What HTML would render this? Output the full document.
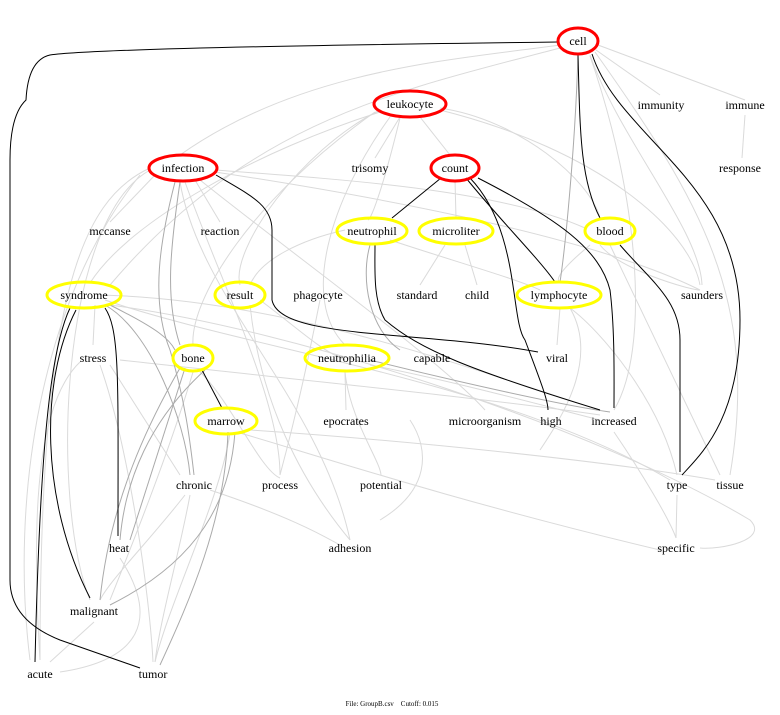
<!DOCTYPE html>
<html><head><meta charset="utf-8"><style>
html,body{margin:0;padding:0;background:#fff;width:780px;height:715px;overflow:hidden}
svg text{font-family:"Liberation Serif",serif;font-size:12px;fill:#000;text-anchor:middle}
</style></head><body>
<svg width="780" height="715" viewBox="0 0 780 715" xmlns="http://www.w3.org/2000/svg">
<g fill="none" stroke="#dadada" stroke-width="1">
<path d="M560,45 C450,60 300,70 180,155"/>
<path d="M560,48 C400,90 250,120 110,285"/>
<path d="M598,45 L745,100"/>
<path d="M596,50 L660,95"/>
<path d="M590,55 C620,140 700,230 702,285"/>
<path d="M595,52 C700,200 760,300 730,475"/>
<path d="M590,56 C640,200 650,350 614,410"/>
<path d="M380,110 C300,150 230,250 240,285"/>
<path d="M380,112 C260,150 130,220 90,283"/>
<path d="M400,117 L375,158"/>
<path d="M420,117 L450,155"/>
<path d="M440,108 C520,120 590,180 600,218"/>
<path d="M440,110 C600,150 690,230 700,285"/>
<path d="M390,117 C330,200 300,300 345,345"/>
<path d="M375,112 C250,200 190,300 193,345"/>
<path d="M400,118 C380,200 370,220 368,220"/>
<path d="M215,170 C350,180 500,190 585,228"/>
<path d="M215,172 C400,200 600,240 700,290"/>
<path d="M150,168 C80,200 40,300 40,660"/>
<path d="M155,175 L110,222"/>
<path d="M195,180 L220,222"/>
<path d="M150,170 C60,220 50,500 90,600"/>
<path d="M180,182 C200,300 320,400 350,540"/>
<path d="M185,182 C220,280 280,400 280,475"/>
<path d="M200,180 C300,260 440,360 485,410"/>
<path d="M345,230 C300,240 260,260 250,285"/>
<path d="M390,240 C450,260 520,280 540,290"/>
<path d="M445,245 L420,285"/>
<path d="M465,245 L477,285"/>
<path d="M600,245 C620,270 690,290 700,290"/>
<path d="M610,245 L720,475"/>
<path d="M590,245 C560,270 555,280 560,282"/>
<path d="M100,295 C300,300 500,380 600,410"/>
<path d="M105,300 C250,350 500,380 670,480"/>
<path d="M95,305 L93,345"/>
<path d="M110,305 C300,330 600,430 750,520 C770,540 720,550 700,548"/>
<path d="M260,300 C300,330 320,350 345,360"/>
<path d="M250,305 C260,400 300,480 350,540"/>
<path d="M320,300 C310,350 300,400 280,475"/>
<path d="M560,308 L557,345"/>
<path d="M570,308 C600,330 660,400 677,475"/>
<path d="M570,308 C600,360 560,420 540,450"/>
<path d="M80,362 C40,400 30,500 40,660"/>
<path d="M100,365 C130,450 150,600 153,662"/>
<path d="M110,365 L180,475"/>
<path d="M120,360 C300,380 500,400 600,415"/>
<path d="M193,372 C170,450 130,550 110,600"/>
<path d="M200,372 C230,400 260,470 280,478"/>
<path d="M345,372 L346,410"/>
<path d="M345,372 C350,420 380,460 381,475"/>
<path d="M370,365 C450,380 560,410 600,420"/>
<path d="M240,433 C300,450 450,500 660,550"/>
<path d="M230,433 C220,500 170,600 155,662"/>
<path d="M250,430 C400,440 600,460 715,480"/>
<path d="M190,495 C180,550 160,620 155,662"/>
<path d="M185,495 C150,540 110,580 100,600"/>
<path d="M210,490 C300,520 330,540 340,545"/>
<path d="M614,432 C640,470 670,520 676,538"/>
<path d="M677,495 L676,538"/>
<path d="M120,558 C160,620 140,660 60,672"/>
<path d="M94,622 L50,662"/>
<path d="M745,115 L742,158"/>
<path d="M455,180 L456,218"/>
<path d="M410,420 C430,450 430,490 380,520"/>
<path d="M30,660 C10,500 40,300 140,175"/>
</g>
<g fill="none" stroke="#aaa" stroke-width="1">
<path d="M578,55 C575,150 565,250 560,282"/>
<path d="M175,182 C160,240 150,300 170,350 C185,400 190,440 194,475"/>
<path d="M180,182 C170,250 165,300 180,345"/>
<path d="M370,245 C360,280 370,330 400,350"/>
<path d="M110,305 C160,330 170,340 175,350"/>
<path d="M105,305 C150,330 185,420 190,475"/>
<path d="M180,368 C150,420 110,500 100,600"/>
<path d="M185,368 L130,540"/>
<path d="M235,432 C230,500 200,560 110,605"/>
<path d="M228,432 C225,520 190,600 160,665"/>
<path d="M205,370 C150,420 125,480 120,540"/>
<path d="M370,360 C450,380 560,405 610,412"/>
</g>
<g fill="none" stroke="#000" stroke-width="1">
<path d="M558,42 C400,44 100,48 50,55 Q28,60 26,100 Q10,115 10,160 L10,580 Q10,620 60,640 L140,668"/>
<path d="M578,55 C580,130 580,180 600,218"/>
<path d="M592,54 C620,140 740,180 740,320 C740,420 700,455 682,475"/>
<path d="M216,175 C250,195 272,205 272,230 L272,300 C280,340 420,330 538,352"/>
<path d="M441,178 L392,218"/>
<path d="M466,178 C500,220 540,260 555,282"/>
<path d="M470,178 C520,230 510,320 525,340 C540,380 548,400 548,410"/>
<path d="M478,178 C560,220 600,250 610,290 C615,330 614,380 614,408"/>
<path d="M375,245 C375,270 373,300 385,320 C420,350 470,370 600,410"/>
<path d="M70,308 C50,350 40,450 35,662"/>
<path d="M76,310 C40,380 40,500 90,598"/>
<path d="M105,308 C120,330 118,380 118,536"/>
<path d="M202,370 L222,408"/>
<path d="M620,245 C650,280 680,300 680,340 L680,472"/>
</g>
<g fill="none" stroke-width="3">
<ellipse cx="578" cy="41" rx="20" ry="13" stroke="#f00"/>
<ellipse cx="410" cy="104" rx="36" ry="13" stroke="#f00"/>
<ellipse cx="183" cy="168" rx="34" ry="13" stroke="#f00"/>
<ellipse cx="455" cy="168" rx="24" ry="13" stroke="#f00"/>
<ellipse cx="372" cy="231" rx="35" ry="13" stroke="#ff0"/>
<ellipse cx="456" cy="231" rx="37" ry="13" stroke="#ff0"/>
<ellipse cx="610" cy="231" rx="25" ry="13" stroke="#ff0"/>
<ellipse cx="84" cy="295" rx="37" ry="13" stroke="#ff0"/>
<ellipse cx="240" cy="295" rx="25" ry="13" stroke="#ff0"/>
<ellipse cx="559" cy="295" rx="42" ry="13" stroke="#ff0"/>
<ellipse cx="193" cy="358" rx="20" ry="13" stroke="#ff0"/>
<ellipse cx="347" cy="358" rx="42" ry="13" stroke="#ff0"/>
<ellipse cx="226" cy="421" rx="31" ry="13" stroke="#ff0"/>
</g>
<g>
<text x="578" y="45">cell</text>
<text x="410" y="108">leukocyte</text>
<text x="661" y="109">immunity</text>
<text x="745" y="109">immune</text>
<text x="183" y="172">infection</text>
<text x="370" y="172">trisomy</text>
<text x="455" y="172">count</text>
<text x="740" y="172">response</text>
<text x="110" y="235">mccanse</text>
<text x="220" y="235">reaction</text>
<text x="372" y="235">neutrophil</text>
<text x="456" y="235">microliter</text>
<text x="610" y="235">blood</text>
<text x="84" y="299">syndrome</text>
<text x="240" y="299">result</text>
<text x="318" y="299">phagocyte</text>
<text x="417" y="299">standard</text>
<text x="477" y="299">child</text>
<text x="559" y="299">lymphocyte</text>
<text x="702" y="299">saunders</text>
<text x="93" y="362">stress</text>
<text x="193" y="362">bone</text>
<text x="347" y="362">neutrophilia</text>
<text x="432" y="362">capable</text>
<text x="557" y="362">viral</text>
<text x="226" y="425">marrow</text>
<text x="346" y="425">epocrates</text>
<text x="485" y="425">microorganism</text>
<text x="551" y="425">high</text>
<text x="614" y="425">increased</text>
<text x="194" y="489">chronic</text>
<text x="280" y="489">process</text>
<text x="381" y="489">potential</text>
<text x="677" y="489">type</text>
<text x="730" y="489">tissue</text>
<text x="119" y="552">heat</text>
<text x="350" y="552">adhesion</text>
<text x="676" y="552">specific</text>
<text x="94" y="615">malignant</text>
<text x="40" y="678">acute</text>
<text x="153" y="678">tumor</text>
<text x="392" y="706" style="font-size:7px">File: GroupB.csv &#160;&#160; Cutoff: 0.015</text>
</g>
</svg>
</body></html>
